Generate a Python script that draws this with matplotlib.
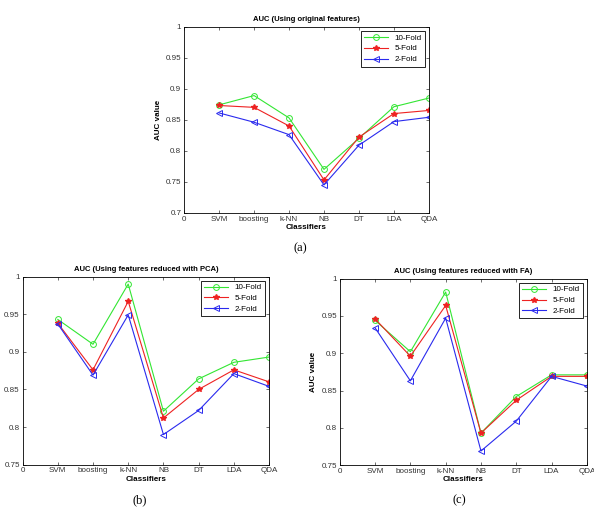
import matplotlib
matplotlib.use("Agg")
import matplotlib.pyplot as plt

plt.rcParams['font.family'] = ['Liberation Sans', 'DejaVu Sans']

# data
classifiers = ['SVM', 'boosting', 'k-NN', 'NB', 'DT', 'LDA', 'QDA']
folds = ['10-Fold', '5-Fold', '2-Fold']

orig_10 = [0.874, 0.889, 0.853, 0.770, 0.820, 0.871, 0.885]
orig_5 = [0.873, 0.870, 0.840, 0.753, 0.822, 0.860, 0.865]
orig_2 = [0.861, 0.846, 0.826, 0.745, 0.809, 0.847, 0.854]

pca_10 = [0.943, 0.910, 0.990, 0.821, 0.864, 0.886, 0.893]
pca_5 = [0.938, 0.876, 0.967, 0.812, 0.850, 0.876, 0.860]
pca_2 = [0.937, 0.869, 0.949, 0.790, 0.822, 0.871, 0.854]

fa_10 = [0.944, 0.902, 0.982, 0.793, 0.842, 0.871, 0.871]
fa_5 = [0.946, 0.896, 0.964, 0.793, 0.837, 0.869, 0.869]
fa_2 = [0.934, 0.863, 0.947, 0.769, 0.809, 0.869, 0.856]

colors = ['#33e633', '#ee2222', '#2a2aee']
markers = ['o', '*', '<']

fig = plt.figure(figsize=(5.94, 5.14), dpi=100)


def draw(rect, title, series, ylim, yticks, caption, cap_xy):
    ax = fig.add_axes(rect)
    x = list(range(1, len(classifiers) + 1))
    for vals, lab, c, m in zip(series, folds, colors, markers):
        if m == '*':
            ax.plot(x, vals, color=c, marker=m, markersize=4, lw=0.8, label=lab)
        else:
            ax.plot(x, vals, color=c, marker=m, markersize=4.2, lw=0.8,
                    fillstyle='none', markeredgewidth=0.7, label=lab)
    ax.set_xlim(0, 7)
    ax.set_ylim(*ylim)
    ax.set_xticks(range(0, 8))
    ax.set_xticklabels(['0'] + classifiers)
    ax.set_yticks(yticks)
    ax.set_yticklabels([('%g' % t) for t in yticks])
    ax.tick_params(direction='in', length=2, width=0.5, labelsize=5.8,
                   top=True, right=True, pad=2, colors='#333333')
    for s in ax.spines.values():
        s.set_linewidth(0.6)
    ax.set_title(title, fontsize=5.5, fontweight='bold', pad=4)
    ax.set_xlabel('Classifiers', fontsize=5.8, fontweight='bold', labelpad=1)
    ax.set_ylabel('AUC value', fontsize=5.8, fontweight='bold', labelpad=3)
    leg = ax.legend(loc='upper right', fontsize=5.8, fancybox=False,
                    framealpha=1, edgecolor='black', borderpad=0.4,
                    handlelength=3, labelspacing=0.4, borderaxespad=0.5)
    leg.get_frame().set_linewidth(0.6)
    fig.text(cap_xy[0], cap_xy[1], caption, fontsize=9,
             family='Liberation Serif', ha='center', va='center')
    return ax


draw([0.310, 0.586, 0.412, 0.362], 'AUC (Using original features)',
     [orig_10, orig_5, orig_2], (0.7, 1.0),
     [0.7, 0.75, 0.8, 0.85, 0.9, 0.95, 1.0], '(a)', (0.505, 1 - 248 / 514))
draw([0.038, 0.096, 0.415, 0.366], 'AUC (Using features reduced with PCA)',
     [pca_10, pca_5, pca_2], (0.75, 1.0),
     [0.75, 0.8, 0.85, 0.9, 0.95, 1.0], '(b)', (140 / 594, 1 - 500 / 514))
draw([0.572, 0.095, 0.416, 0.363], 'AUC (Using features reduced with FA)',
     [fa_10, fa_5, fa_2], (0.75, 1.0),
     [0.75, 0.8, 0.85, 0.9, 0.95, 1.0], '(c)', (459 / 594, 1 - 500 / 514))

fig.savefig('out.png', dpi=100)
